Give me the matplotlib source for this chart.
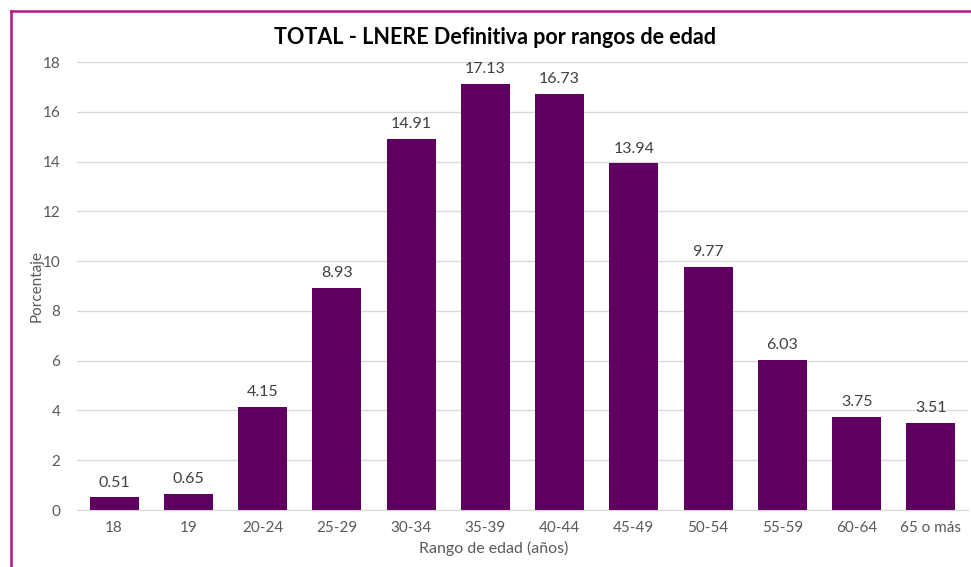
import matplotlib
matplotlib.use("Agg")
import matplotlib.pyplot as plt
from matplotlib.lines import Line2D

categories = ["18", "19", "20-24", "25-29", "30-34", "35-39", "40-44", "45-49", "50-54", "55-59", "60-64", "65 o más"]
values = [0.51, 0.65, 4.15, 8.93, 14.91, 17.13, 16.73, 13.94, 9.77, 6.03, 3.75, 3.51]
yticks = [0, 2, 4, 6, 8, 10, 12, 14, 16, 18]

plt.rcParams['font.family'] = ['Lato', 'DejaVu Sans']

W, H = 971, 567
fig = plt.figure(figsize=(W / 100, H / 100), dpi=100)
ax = fig.add_axes([77 / W, 1 - 510 / H, 891 / W, 448 / H])

bar_color = "#5F0060"
x = list(range(len(categories)))
ax.bar(x, values, width=0.66, color=bar_color, zorder=3)
for xi, v in zip(x, values):
    ax.text(xi, v + 0.3, f"{v:.2f}", ha="center", va="bottom", fontsize=11.5, color="#404040")

ax.set_xlim(-0.5, len(categories) - 0.5)
ax.set_ylim(0, 18)
ax.set_yticks(yticks)
ax.set_xticks(x)
ax.set_xticklabels(categories)
ax.tick_params(axis="both", length=0, labelsize=11, colors="#595959")
ax.tick_params(axis="y", pad=12)
ax.tick_params(axis="x", pad=8)
ax.grid(axis="y", color="#D9D9D9", linewidth=1, zorder=0)
for s in ["top", "right", "left"]:
    ax.spines[s].set_visible(False)
ax.spines["bottom"].set_color("#D9D9D9")

ax.set_ylabel("Porcentaje", fontsize=11, color="#595959")
ax.yaxis.label.set_va("center")
ax.yaxis.set_label_coords((37 - 77) / 891, 0.5)
ax.set_xlabel("Rango de edad (años)", fontsize=11.5, color="#595959")
ax.xaxis.set_label_coords((494 - 77) / 891, -(548 - 510) / 448)
ax.xaxis.label.set_va("center")

fig.text(495 / W, 1 - 38 / H, "TOTAL - LNERE Definitiva por rangos de edad", ha="center", va="center",
         fontsize=15.5, fontweight="bold", color="#000000")

border = "#B5178A"
fig.add_artist(Line2D([11 / W, 11 / W], [0, 1 - 11 / H], transform=fig.transFigure, color=border, linewidth=1.8))
fig.add_artist(Line2D([11 / W, 1], [1 - 11 / H, 1 - 11 / H], transform=fig.transFigure, color=border, linewidth=1.8))

fig.savefig("out.png", dpi=100)
